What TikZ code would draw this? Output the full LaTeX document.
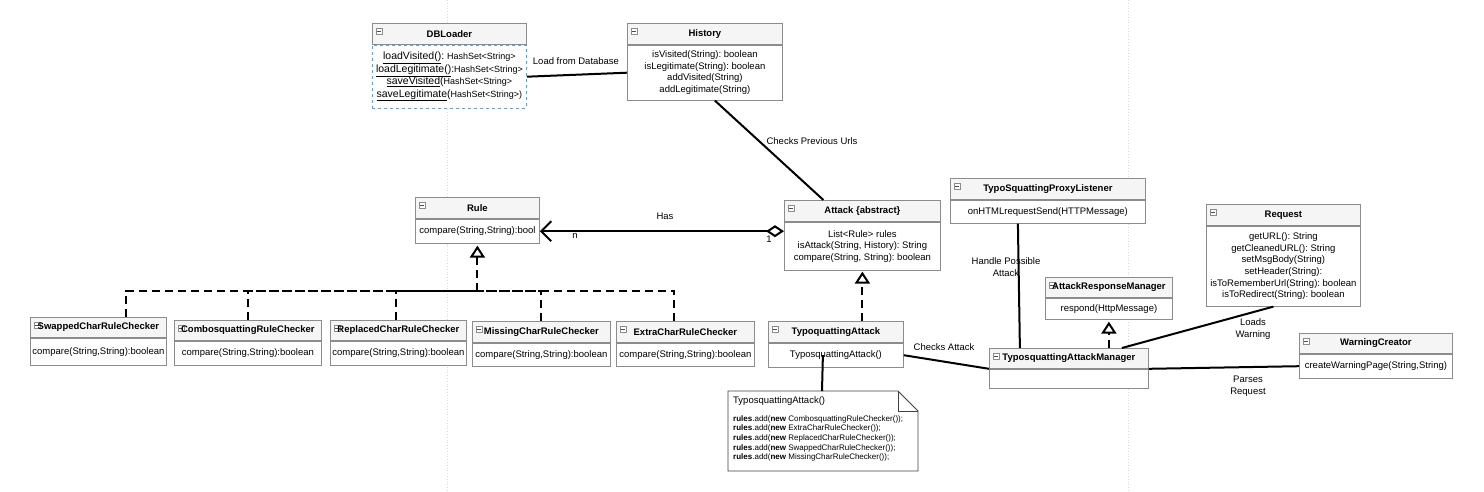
\documentclass[tikz,border=0pt]{standalone}
\usepackage{fontspec}
\setmainfont{Liberation Sans}
\usetikzlibrary{arrows.meta}
\definecolor{umlgray}{RGB}{140,140,140}
\definecolor{umlhead}{RGB}{245,245,245}
\definecolor{gridgray}{RGB}{218,218,218}
\definecolor{selblue}{RGB}{90,160,220}
\tikzset{
  head/.style={draw=umlgray, fill=umlhead, line width=0.8pt, minimum height=21, anchor=north west,
    inner sep=1pt, font=\bfseries\fontsize{9.5}{11}\selectfont,
    path picture={\draw[umlgray, fill=white, line width=0.5pt]
      ([shift={(4pt,-5pt)}]path picture bounding box.north west) rectangle ++(6pt,-6pt);
      \draw[black!70, line width=0.6pt]
      ([shift={(5pt,-8pt)}]path picture bounding box.north west) -- ++(4pt,0);}},
  body/.style={draw=umlgray, fill=white, line width=0.8pt, anchor=north, align=center,
    inner sep=1pt, font=\fontsize{9.5}{11.6}\selectfont},
  link/.style={line width=2pt},
  realize/.style={link, dash pattern=on 8pt off 5pt},
  lbl/.style={font=\fontsize{9.5}{12}\selectfont, align=center, inner sep=1pt},
}
\newcommand{\smt}[1]{{\fontsize{9}{12.4}\selectfont #1}}
\frenchspacing
\begin{document}
\begin{tikzpicture}[x=1pt, y=-1pt, >={Triangle[open, length=12pt, width=15pt]}]
	\useasboundingbox (0,0) rectangle (1484,491);
	
	% page grid lines
	\draw[gridgray, dotted, line width=0.8pt] (447,0) -- (447,491);
	\draw[gridgray, dotted, line width=0.8pt] (1128,0) -- (1128,491);
	
	% classes
	\node[head, minimum width=154] (dbh) at (372,23) {DBLoader};
	\node[body, minimum width=154, minimum height=63, draw=selblue, dashed, font=\fontsize{10.5}{12.4}\selectfont] (db) at (dbh.south)
		{\underline{loadVisited()}: \smt{HashSet<String>}\\
		 \underline{loadLegitimate()}:\smt{HashSet<String>}\\
		 \underline{saveVisited}(\smt{HashSet<String>}\\
		 \underline{saveLegitimate}(\smt{HashSet<String>)}};
	
	\node[head, minimum width=155] (histh) at (627,23) {History};
	\node[body, minimum width=155, minimum height=55] (hist) at (histh.south)
		{isVisited(String): boolean\\ isLegitimate(String): boolean\\ addVisited(String)\\ addLegitimate(String)};
	
	\node[head, minimum width=124] (ruleh) at (415,197) {Rule};
	\node[body, minimum width=124, minimum height=24] (rule) at (ruleh.south) {compare(String,String):bool};
	
	\node[head, minimum width=156] (atth) at (784,200) {Attack \{abstract\}};
	\node[body, minimum width=156, minimum height=48] (att) at (atth.south)
		{List<Rule> rules\\ isAttack(String, History): String\\ compare(String, String): boolean};
	
	\node[head, minimum width=195] (lish) at (950,178) {TypoSquattingProxyListener};
	\node[body, minimum width=195, minimum height=23] (lis) at (lish.south) {onHTMLrequestSend(HTTPMessage)};
	
	\node[head, minimum width=154] (reqh) at (1206,204) {Request};
	\node[body, minimum width=154, minimum height=80] (req) at (reqh.south)
		{getURL(): String\\ getCleanedURL(): String\\ setMsgBody(String)\\ setHeader(String):\\
		 isToRememberUrl(String): boolean\\ isToRedirect(String): boolean};
	
	\node[head, minimum width=127, minimum height=20] (armh) at (1045,277) {AttackResponseManager};
	\node[body, minimum width=127, minimum height=21] (arm) at (armh.south) {respond(HttpMessage)};
	
	\node[head, minimum width=136, minimum height=20] (swh) at (30,317) {SwappedCharRuleChecker};
	\node[body, minimum width=136, minimum height=27] (sw) at (swh.south) {compare(String,String):boolean};
	
	\node[head, minimum width=147, minimum height=20] (coh) at (174,320) {CombosquattingRuleChecker};
	\node[body, minimum width=147, minimum height=24] (co) at (coh.south) {compare(String,String):boolean};
	
	\node[head, minimum width=136, minimum height=20] (reh) at (330,320) {ReplacedCharRuleChecker};
	\node[body, minimum width=136, minimum height=24] (re) at (reh.south) {compare(String,String):boolean};
	
	\node[head, minimum width=138] (mih) at (472,321) {MissingCharRuleChecker};
	\node[body, minimum width=138, minimum height=23] (mi) at (mih.south) {compare(String,String):boolean};
	
	\node[head, minimum width=138] (exh) at (616,321) {ExtraCharRuleChecker};
	\node[body, minimum width=138, minimum height=23] (ex) at (exh.south) {compare(String,String):boolean};
	
	\node[head, minimum width=135] (tah) at (768,321) {TypoquattingAttack};
	\node[body, minimum width=135, minimum height=24] (ta) at (tah.south) {TyposquattingAttack()};
	
	\node[head, minimum width=159, minimum height=20] (mgrh) at (989,348) {TyposquattingAttackManager};
	\node[body, minimum width=159, minimum height=19] (mgr) at (mgrh.south) {};
	
	\node[head, minimum width=153, minimum height=20] (wch) at (1299,333) {WarningCreator};
	\node[body, minimum width=153, minimum height=24] (wc) at (wch.south) {createWarningPage(String,String)};
	
	% note
	\draw[black!75, line width=0.8pt, fill=white] (728,391) -- (898,391) -- (918,411) -- (918,471) -- (728,471) -- cycle;
	\draw[black!75, line width=0.8pt] (898,391) -- (898,411) -- (918,411);
	\coordinate (noteTop) at (822,391);
	\node[anchor=north west, inner sep=0pt, font=\fontsize{9.5}{11}\selectfont] (noteTitle) at (733,396) {TyposquattingAttack()};
	\node[anchor=north west, align=left, inner sep=0pt, font=\fontsize{8}{9.7}\selectfont] (noteCode) at (733,415)
		{\textbf{rules}.add(\textbf{new} CombosquattingRuleChecker());\\
		 \textbf{rules}.add(\textbf{new} ExtraCharRuleChecker());\\
		 \textbf{rules}.add(\textbf{new} ReplacedCharRuleChecker());\\
		 \textbf{rules}.add(\textbf{new} SwappedCharRuleChecker());\\
		 \textbf{rules}.add(\textbf{new} MissingCharRuleChecker());};
	
	% associations
	\draw[link] (db.east) -- (hist.west);
	\node[lbl] (lblLoad) at (576,61) {Load from Database};
	
	\draw[link] ([xshift=10]hist.south) -- ([xshift=-39]atth.north);
	\node[lbl] (lblCheck) at (812,141) {Checks Previous Urls};
	
	\draw[link, {Straight Barb[length=10pt, width=20pt]}-{Diamond[open, length=18pt, width=12pt]}]
		(rule.east) -- (att.west |- rule.east);
	\node[lbl] (lblHas) at (665,216) {Has};
	\node[lbl] (lblN) at (575,236) {n};
	\node[lbl] (lblOne) at (769,239) {1};
	
	% realisations of Rule
	\coordinate (ruleBus) at ([yshift=-47]rule.south);
	\draw[realize, ->] (ruleBus) -- ([yshift=-2]rule.south);
	\draw[realize] ([xshift=28]swh.north) |- (ruleBus);
	\draw[realize] (coh.north) |- (ruleBus);
	\draw[realize] ([xshift=-2]reh.north) |- (ruleBus);
	\draw[realize] (mih.north) |- (ruleBus);
	\draw[realize] ([xshift=-11]exh.north) |- (ruleBus);
	
	\draw[realize, ->] (att.south |- tah.north) -- ([yshift=-1]att.south);
	\draw[link] ([xshift=-13]ta.center) -- (noteTop);
	
	\draw[link] (ta.east) -- (mgr.north west);
	\node[lbl] (lblAttack) at (944,347) {Checks Attack};
	
	\draw[link] ([xshift=-30]lis.south) -- ([xshift=-49]mgrh.north);
	\node[lbl] (lblHandle) at (1006,267) {Handle Possible\\Attack};
	
	\draw[realize, ->] (arm.south |- mgrh.north) -- ([yshift=-2]arm.south);
	
	\draw[link] ([xshift=53]mgrh.north) -- ([xshift=-10]req.south);
	\node[lbl] (lblLoads) at (1253,329) {Loads\\Warning};
	
	\draw[link] (mgr.north east) -- (wc.west);
	\node[lbl] (lblParses) at (1248,386) {Parses\\Request};
\end{tikzpicture}
\end{document}
